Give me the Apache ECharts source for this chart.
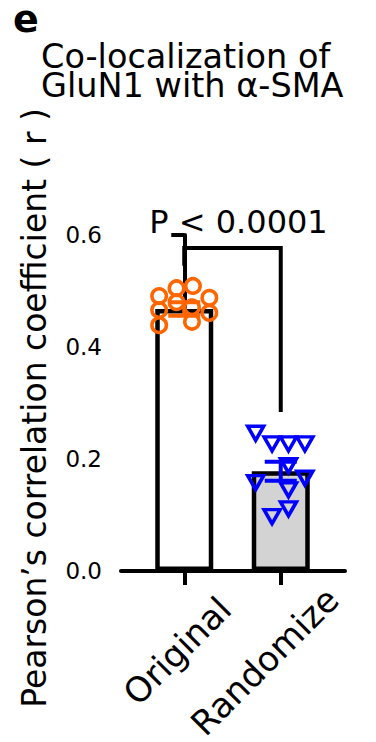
<!DOCTYPE html>
<html><head><meta charset="utf-8">
<script src="https://cdn.jsdelivr.net/npm/echarts@6/dist/echarts.min.js"></script>
<style>html,body{margin:0;padding:0;background:#fff}#c{width:376px;height:742px}</style>
</head><body><div id="c"></div>
<script>
const categories = ['Original', 'Randomize'];
const means = [0.468, 0.178];
const sems = [0.012, 0.017];
const originalValues = [0.491, 0.505, 0.509, 0.488, 0.466, 0.480, 0.471, 0.461, 0.439, 0.445];
const originalJitter = [-0.26, -0.08, 0.09, 0.26, -0.26, -0.08, 0.08, 0.26, -0.26, 0.08];
const randomizeValues = [0.246, 0.227, 0.227, 0.227, 0.188, 0.166, 0.158, 0.145, 0.111, 0.097];
const randomizeJitter = [-0.26, -0.09, 0.08, 0.25, 0.08, 0.25, -0.26, 0.08, 0.08, -0.09];
const yTickLabels = ['0.0', '0.2', '0.4', '0.6'];
const bracketLeftLow = 0.545;
const bracketTop = 0.577;
const bracketRightLow = 0.284;
const pLabel = 'P < 0.0001';
const titleLines = ['Co-localization of', 'GluN1 with α-SMA'];
const panelLetter = 'e';
const yName = 'Pearson\u2019s correlation coefficient ( r )';

const FONT = 'DejaVu Sans';
const ORANGE = '#ff6600';
const BLUE = '#0000ff';
const barFills = ['#ffffff', '#d3d3d3'];
const markColors = [ORANGE, BLUE];
const catLabelOffsets = [[-7, 80], [-16, 90.5]];

const chart = echarts.init(document.getElementById('c'), null, {renderer: 'svg'});
const option = {
  animation: false,
  backgroundColor: '#fff',
  title: [
    {text: panelLetter, left: 13, top: 0, padding: 0, textStyle: {fontFamily: FONT, fontWeight: 'bold', fontSize: 38, lineHeight: 38, color: '#000'}},
    {text: titleLines.join('\n'), left: 41, top: 42, padding: 0, textStyle: {fontFamily: FONT, fontWeight: 'normal', fontSize: 33.5, lineHeight: 29, color: '#000'}},
    {text: pLabel, left: 238.5, top: 206, textAlign: 'center', padding: 0, textStyle: {fontFamily: FONT, fontWeight: 'normal', fontSize: 32, lineHeight: 32, color: '#000'}}
  ],
  grid: [
    {left: 136, width: 193, top: 235, height: 336, outerBoundsMode: 'none', containLabel: false},
    {left: 121, width: 224, top: 235, height: 336, outerBoundsMode: 'none', containLabel: false}
  ],
  xAxis: [
    {
      type: 'category', gridIndex: 0, boundaryGap: true, data: categories,
      axisLine: {show: true, lineStyle: {color: '#000', width: 4}},
      axisTick: {show: true, alignWithLabel: true, length: 14, lineStyle: {color: '#000', width: 4}},
      axisLabel: {show: false},
      splitLine: {show: false}
    },
    {type: 'value', gridIndex: 0, min: -0.5, max: 1.5, show: false},
    {type: 'value', gridIndex: 1, min: 0, max: 1,
      axisLine: {show: true, onZero: false, lineStyle: {color: '#000', width: 4}},
      axisTick: {show: false}, axisLabel: {show: false}, splitLine: {show: false}}
  ],
  yAxis: [
    {
      type: 'value', gridIndex: 0, min: 0, max: 0.6, interval: 0.2, offset: 15,
      axisLine: {show: true, lineStyle: {color: '#000', width: 4}},
      axisTick: {show: true, length: 13, lineStyle: {color: '#000', width: 4}},
      axisLabel: {margin: 19, fontFamily: FONT, fontSize: 23, color: '#000',
        formatter: v => yTickLabels[Math.round(v / 0.2)]},
      splitLine: {show: false},
      name: yName, nameLocation: 'middle', nameGap: 70,
      nameTextStyle: {fontFamily: FONT, fontSize: 33, lineHeight: 34, color: '#000', padding: [0, 10, 0, 0]}
    },
    {type: 'value', gridIndex: 1, min: 0, max: 0.6, show: false}
  ],
  series: [
    {
      type: 'bar', xAxisIndex: 0, yAxisIndex: 0, barWidth: 58, z: 2,
      data: means.map((m, i) => ({value: m, itemStyle: {color: barFills[i]}})),
      itemStyle: {borderColor: '#000', borderWidth: 4.5}
    },
    {
      type: 'custom', xAxisIndex: 0, yAxisIndex: 0, z: 3,
      data: means.map((m, i) => [i, m, sems[i]]),
      renderItem: function (params, api) {
        const i = params.dataIndex, m = means[i], s = sems[i];
        const top = api.coord([i, m + s]);
        const bot = api.coord([i, m - s]);
        const hw = 16;
        const st = {stroke: markColors[i], lineWidth: 4, fill: null};
        return {type: 'group', children: [
          {type: 'line', shape: {x1: top[0], y1: top[1], x2: bot[0], y2: bot[1]}, style: st},
          {type: 'line', shape: {x1: top[0] - hw, y1: top[1], x2: top[0] + hw, y2: top[1]}, style: st},
          {type: 'line', shape: {x1: bot[0] - hw, y1: bot[1], x2: bot[0] + hw, y2: bot[1]}, style: st}
        ]};
      }
    },
    {
      type: 'scatter', xAxisIndex: 1, yAxisIndex: 0, z: 4,
      symbol: 'circle', symbolSize: 14.5,
      itemStyle: {color: 'rgba(0,0,0,0)', borderColor: ORANGE, borderWidth: 3.5, opacity: 1},
      data: originalValues.map((v, i) => [0 + originalJitter[i], v])
    },
    {
      type: 'scatter', xAxisIndex: 1, yAxisIndex: 0, z: 4,
      symbol: 'triangle', symbolRotate: 180, symbolSize: [16, 14],
      itemStyle: {color: 'rgba(0,0,0,0)', borderColor: BLUE, borderWidth: 3.5, opacity: 1},
      data: randomizeValues.map((v, i) => [1 + randomizeJitter[i], v])
    },
    {
      type: 'custom', xAxisIndex: 0, yAxisIndex: 0, z: 5, clip: false,
      data: [[0, bracketTop]],
      renderItem: function (params, api) {
        const a0 = api.coord([0, bracketLeftLow]);
        const x0 = a0[0], y0 = a0[1];
        const t = api.coord([1, bracketTop]);
        const x1 = t[0], yt = t[1];
        const b = api.coord([1, bracketRightLow]);
        const y1 = b[1];
        const st = {stroke: '#000', lineWidth: 4, fill: null};
        return {type: 'group', children: [
          {type: 'polyline', shape: {points: [[x0, y0], [x0, yt], [x1, yt], [x1, y1]]},
            style: {stroke: '#000', lineWidth: 4, fill: null, lineJoin: 'miter'}}
        ]};
      }
    },
    {
      type: 'custom', xAxisIndex: 0, yAxisIndex: 0, z: 5, clip: false,
      data: categories.map((c, i) => [i, 0]),
      renderItem: function (params, api) {
        const i = params.dataIndex;
        const p = api.coord([i, 0]);
        const off = catLabelOffsets[i];
        return {type: 'text', x: p[0] + off[0], y: p[1] + off[1], rotation: Math.PI / 4,
          style: {text: categories[i], fill: '#000', font: '34.5px "DejaVu Sans"', lineHeight: 26, align: 'center', verticalAlign: 'middle'}};
      }
    }
  ]
};
chart.setOption(option);
</script>
</body></html>
